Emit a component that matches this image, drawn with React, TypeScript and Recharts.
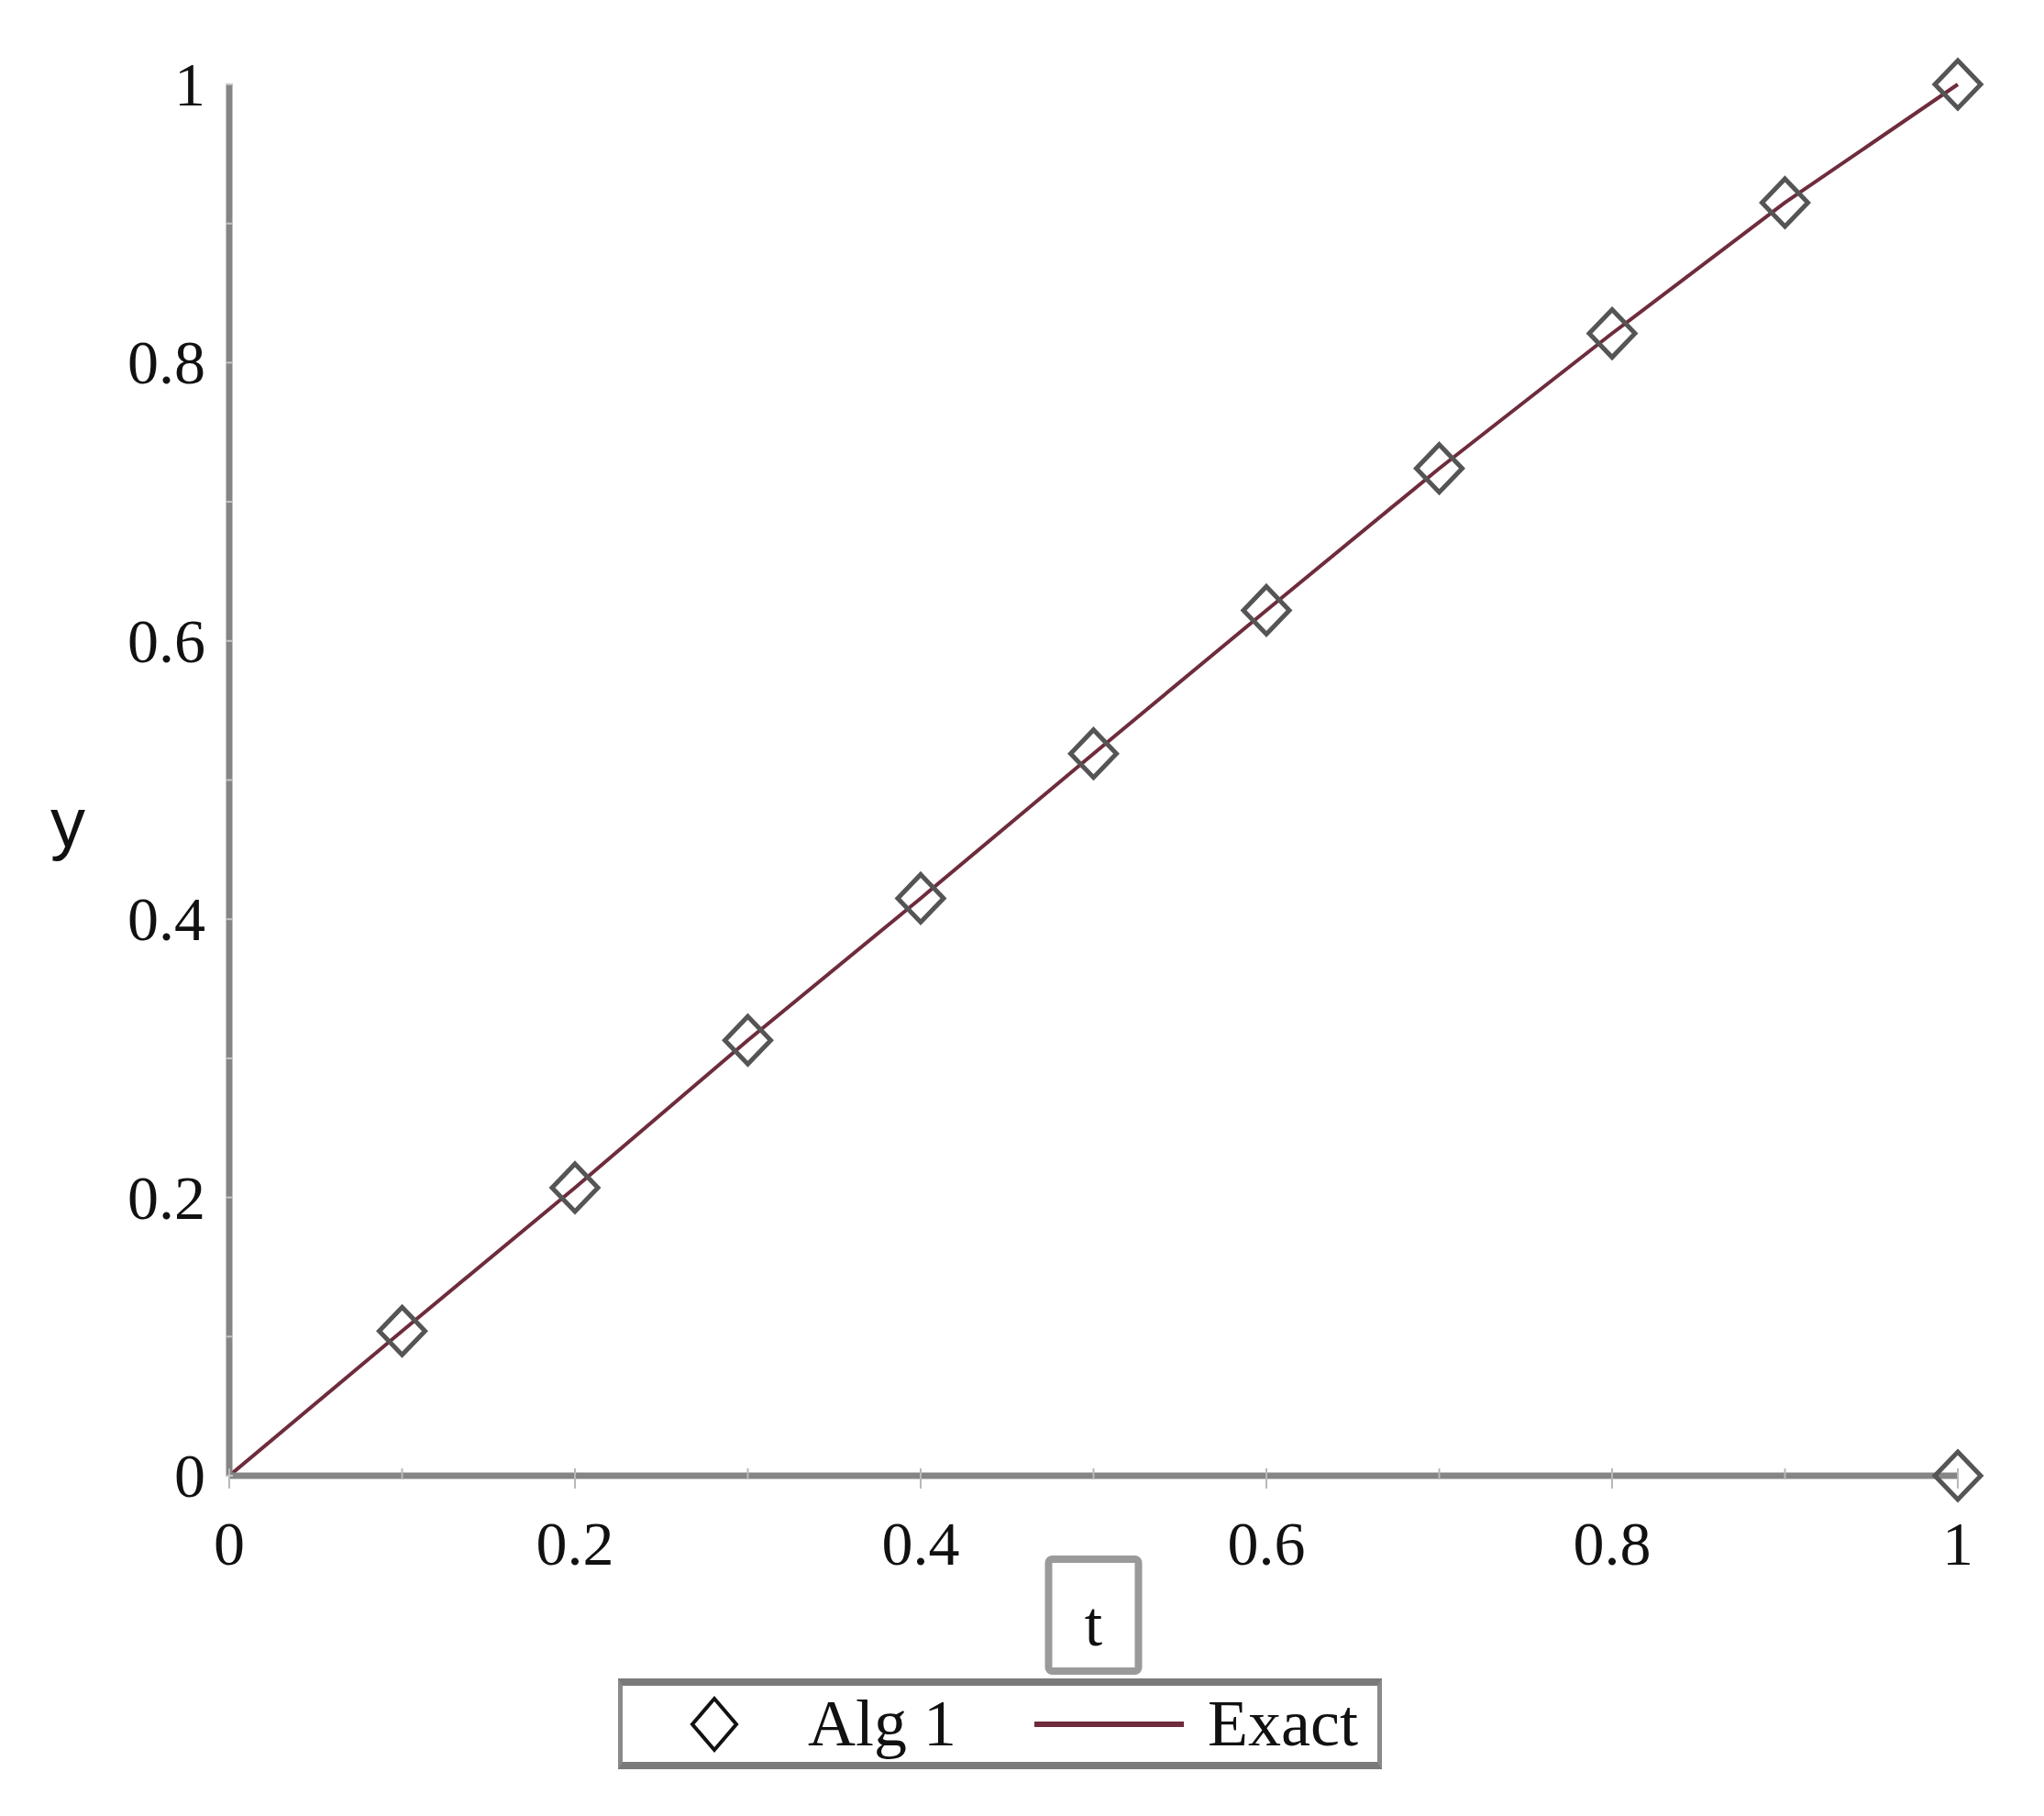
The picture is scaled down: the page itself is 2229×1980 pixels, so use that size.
import React from "react";
import { ComposedChart, Line, Scatter, XAxis, YAxis, Legend } from "recharts";

// Alg 1 samples
const algT = [0.1, 0.2, 0.3, 0.4, 0.5, 0.6, 0.7, 0.8, 0.9, 1.0, 1.0];
const algY = [0.104, 0.207, 0.313, 0.415, 0.519, 0.622, 0.724, 0.821, 0.915, 1.0, 0];

// Exact solution
const exactT = [0, 0.1, 0.2, 0.3, 0.4, 0.5, 0.6, 0.7, 0.8, 0.9, 1.0];
const exactY = [0, 0.104, 0.207, 0.313, 0.415, 0.519, 0.622, 0.724, 0.821, 0.915, 1.0];

const ticks = [0, 0.1, 0.2, 0.3, 0.4, 0.5, 0.6, 0.7, 0.8, 0.9, 1];

const algData = algT.map((t, i) => ({ t, y: algY[i] }));
const exactData = exactT.map((t, i) => ({ t, y: exactY[i] }));

const AXIS = "#858585";
const EXACT = "#6e2c3c";
const SERIF = "'Liberation Serif', 'DejaVu Serif', serif";

const fmt = (v: number) => (v === 0 ? "0" : v === 1 ? "1" : String(v));
const isMajor = (v: number) => Math.round(v * 10) % 2 === 0;

function XTick(props: any) {
  const { x, y, payload } = props;
  const v = payload.value as number;
  return (
    <g>
      <line x1={x} x2={x} y1={y - 16} y2={y - (isMajor(v) ? -6 : 4)} stroke="#b8b8b8" strokeWidth={2} />
      {isMajor(v) && (
        <text x={x} y={y + 66} textAnchor="middle" dominantBaseline="central" fontFamily={SERIF} fontSize={68} fill="#111">
          {fmt(v)}
        </text>
      )}
    </g>
  );
}

function YTick(props: any) {
  const { x, y, payload } = props;
  const v = payload.value as number;
  return (
    <g>
      <line x1={x + 4} x2={x + 12} y1={y} y2={y} stroke="#c4c4c4" strokeWidth={2} />
      {isMajor(v) && (
        <text x={x - 18} y={y} textAnchor="end" dominantBaseline="central" fontFamily={SERIF} fontSize={68} fill="#111">
          {fmt(v)}
        </text>
      )}
    </g>
  );
}

function Diamond(props: any) {
  const { cx, cy } = props;
  const w = 25;
  const h = 26;
  return (
    <polygon
      points={`${cx},${cy - h} ${cx + w},${cy} ${cx},${cy + h} ${cx - w},${cy}`}
      fill="none"
      stroke="#555"
      strokeWidth={5}
    />
  );
}

function TLabel(props: any) {
  const { viewBox } = props;
  const cx = viewBox.x + viewBox.width / 2;
  const top = viewBox.y + 91;
  return (
    <g>
      <rect x={cx - 49} y={top} width={98} height={122} fill="#fff" stroke="#9a9a9a" strokeWidth={8} rx={4} />
      <text x={cx} y={top + 70} textAnchor="middle" dominantBaseline="central" fontFamily={SERIF} fontSize={70} fill="#111">
        t
      </text>
    </g>
  );
}

function YLabel(props: any) {
  const { viewBox } = props;
  return (
    <text
      x={66}
      y={viewBox.y + viewBox.height / 2 + 46}
      textAnchor="middle"
      dominantBaseline="central"
      fontFamily="'Liberation Sans', Arial, sans-serif"
      fontSize={76}
      fill="#111"
    >
      y
    </text>
  );
}

function LegendBox() {
  return (
    <div
      style={{
        width: 833,
        height: 99,
        boxSizing: "border-box",
        borderTop: "8px solid #7a7a7a",
        borderBottom: "8px solid #7a7a7a",
        borderLeft: "5px solid #8a8a8a",
        borderRight: "5px solid #8a8a8a",
        background: "#fff",
        display: "flex",
        alignItems: "center",
        fontFamily: SERIF,
        fontSize: 72,
        color: "#111",
      }}
    >
      <svg width={64} height={64} style={{ marginLeft: 68 }}>
        <polygon points="32,4 56,32 32,60 8,32" fill="none" stroke="#111" strokeWidth={4} />
      </svg>
      <span style={{ marginLeft: 70 }}>Alg 1</span>
      <svg width={163} height={20} style={{ marginLeft: 85 }}>
        <line x1={0} x2={163} y1={10} y2={10} stroke={EXACT} strokeWidth={6} />
      </svg>
      <span style={{ marginLeft: 26 }}>Exact</span>
    </div>
  );
}

export default function App() {
  return (
    <div style={{ position: "relative", width: 2213, height: 1964, background: "#fff" }}>
      <ComposedChart width={2213} height={1964} margin={{ top: 84, right: 86, bottom: 204, left: 0 }}>
        <XAxis
          dataKey="t"
          type="number"
          domain={[0, 1]}
          ticks={ticks}
          height={60}
          stroke={AXIS}
          axisLine={{ stroke: AXIS, strokeWidth: 7 }}
          tickLine={false}
          tick={<XTick />}
          label={<TLabel />}
          allowDuplicatedCategory={false}
        />
        <YAxis
          dataKey="y"
          type="number"
          domain={[0, 1]}
          ticks={ticks}
          width={242}
          axisLine={{ stroke: AXIS, strokeWidth: 7 }}
          tickLine={false}
          tick={<YTick />}
          label={<YLabel />}
        />
        <Line
          data={exactData}
          dataKey="y"
          type="linear"
          stroke={EXACT}
          strokeWidth={4}
          dot={false}
          activeDot={false}
          isAnimationActive={false}
          legendType="line"
          name="Exact"
        />
        <Scatter data={algData} dataKey="y" shape={<Diamond />} isAnimationActive={false} name="Alg 1" />
        <Legend
          content={() => <LegendBox />}
          wrapperStyle={{ position: "absolute", left: 666, top: 1822, width: 833, bottom: "auto" }}
        />
      </ComposedChart>
    </div>
  );
}
